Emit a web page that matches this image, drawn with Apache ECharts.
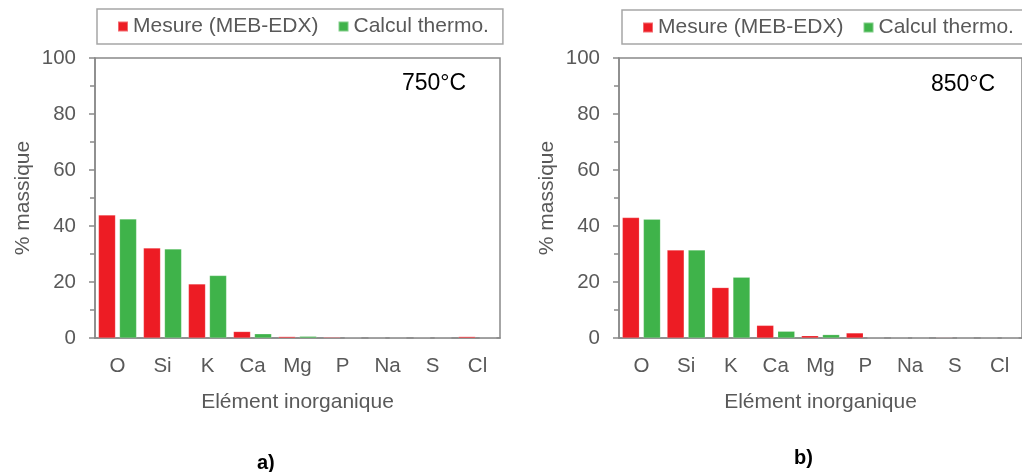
<!DOCTYPE html>
<html>
<head>
<meta charset="utf-8">
<script src="https://cdn.jsdelivr.net/npm/echarts@6/dist/echarts.min.js"></script>
<style>
html,body{margin:0;padding:0;background:#fff;}
#c{width:1022px;height:472px;}
</style>
</head>
<body>
<div id="c"></div>
<script>
var categories = ['O', 'Si', 'K', 'Ca', 'Mg', 'P', 'Na', 'S', 'Cl'];
var seriesNames = ['Mesure (MEB-EDX)', 'Calcul thermo.'];
var mesure750 = [43.9, 32.1, 19.3, 2.3, 0.5, 0.3, 0.05, 0.1, 0.5];
var calcul750 = [42.5, 31.8, 22.3, 1.5, 0.6, 0.1, 0.05, 0.05, 0.05];
var mesure850 = [43.0, 31.4, 18.0, 4.5, 0.8, 1.8, 0.05, 0.2, 0.05];
var calcul850 = [42.4, 31.4, 21.7, 2.4, 1.2, 0.05, 0.02, 0.02, 0.02];
var yTicks = {min: 0, max: 100, interval: 20};
var tempLabels = ['750°C', '850°C'];
var panelLabels = ['a)', 'b)'];

var FONT = '"Liberation Sans", Arial, sans-serif';
var RED = '#ED1C24', GREEN = '#3FB34A';
var AXIS = '#898989', TXT = '#595959';

function xAx(idx) {
  return {
    type: 'category', gridIndex: idx, data: categories,
    axisLine: {lineStyle: {color: AXIS, width: 1.5}},
    axisTick: {show: false},
    axisLabel: {color: TXT, fontSize: 20.5, fontFamily: FONT, margin: 18},
    name: 'Elément inorganique', nameLocation: 'middle', nameGap: 54,
    nameTextStyle: {color: TXT, fontSize: 21, fontFamily: FONT}
  };
}
function yAx(idx) {
  return {
    type: 'value', gridIndex: idx, min: yTicks.min, max: yTicks.max, interval: yTicks.interval,
    axisLine: {show: true, lineStyle: {color: AXIS, width: 1.5}},
    axisTick: {show: true, length: 6, lineStyle: {color: AXIS, width: 1.5}},
    minorTick: {show: true, splitNumber: 2, length: 5, lineStyle: {color: AXIS, width: 1.5}},
    splitLine: {show: false},
    axisLabel: {color: TXT, fontSize: 20.5, fontFamily: FONT, margin: 19},
    name: '% massique', nameLocation: 'middle', nameGap: 61, nameRotate: 90,
    nameTextStyle: {color: TXT, fontSize: 21, fontFamily: FONT}
  };
}
function legend(left, top, padding, width) {
  return {
    left: left, top: top, width: width, data: seriesNames, orient: 'horizontal',
    itemWidth: 10, itemHeight: 10, itemGap: 19, icon: 'rect',
    padding: padding, borderColor: '#a6a6a6', borderWidth: 1.5,
    textStyle: {color: TXT, fontSize: 21, fontFamily: FONT, lineHeight: 21},
    selectedMode: false
  };
}
function bar(name, data, idx, color) {
  return {
    type: 'bar', name: name, data: data, xAxisIndex: idx, yAxisIndex: idx,
    barWidth: 17, barGap: '24%',
    itemStyle: {color: color, borderColor: 'rgba(255,255,255,0.35)', borderWidth: 0.5},
    emphasis: {disabled: true}
  };
}

var chart = echarts.init(document.getElementById('c'), null, {renderer: 'canvas'});
chart.setOption({
  animation: false,
  backgroundColor: '#ffffff',
  grid: [
    {left: 95, top: 58, width: 405, height: 280, show: true, borderColor: AXIS, borderWidth: 1.5, backgroundColor: 'transparent'},
    {left: 619, top: 58, width: 409, height: 280, show: true, borderColor: AXIS, borderWidth: 1.5, backgroundColor: 'transparent'}
  ],
  legend: [legend(97, 9, [7, 14, 7, 20], 380), legend(622, 10, [7, 9, 6, 20], 420)],
  xAxis: [xAx(0), xAx(1)],
  yAxis: [yAx(0), yAx(1)],
  series: [
    bar(seriesNames[0], mesure750, 0, RED),
    bar(seriesNames[1], calcul750, 0, GREEN),
    bar(seriesNames[0], mesure850, 1, RED),
    bar(seriesNames[1], calcul850, 1, GREEN)
  ],
  graphic: [
    {type: 'text', left: 402, top: 72, style: {text: tempLabels[0], font: '23px ' + FONT, fill: '#000'}},
    {type: 'text', left: 931, top: 73, style: {text: tempLabels[1], font: '23px ' + FONT, fill: '#000'}},
    {type: 'text', left: 257, top: 453, style: {text: panelLabels[0], font: 'bold 20px ' + FONT, fill: '#000'}},
    {type: 'text', left: 794, top: 448, style: {text: panelLabels[1], font: 'bold 20px ' + FONT, fill: '#000'}}
  ]
});
</script>
</body>
</html>
